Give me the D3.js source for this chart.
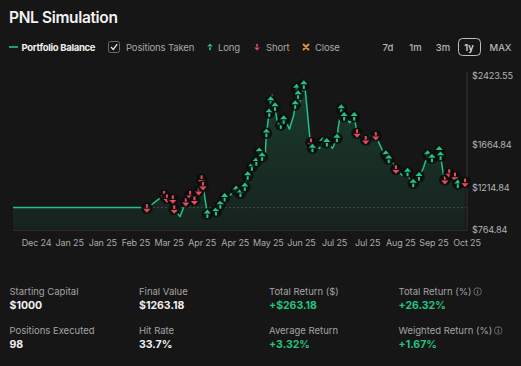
<!DOCTYPE html>
<html><head><meta charset="utf-8">
<script src="https://cdn.jsdelivr.net/npm/d3@7"></script>
<style>
html,body{margin:0;padding:0;background:#161616;}
svg{display:block;font-family:Inter,"Noto Sans",sans-serif;}
</style></head><body>
<svg id="c" width="521" height="366"></svg>
<script>
const dates = ["2024-11-24","2025-02-20","2025-02-25","2025-02-28","2025-03-03","2025-03-09","2025-03-11","2025-03-15","2025-03-16","2025-03-20","2025-03-24","2025-03-27","2025-03-30","2025-04-02","2025-04-04","2025-04-05","2025-04-08","2025-04-11","2025-04-14","2025-04-17","2025-04-20","2025-04-24","2025-04-28","2025-05-01","2025-05-04","2025-05-06","2025-05-09","2025-05-12","2025-05-14","2025-05-16","2025-05-18","2025-05-19","2025-05-21","2025-05-22","2025-05-23","2025-05-25","2025-05-27","2025-05-29","2025-05-31","2025-06-02","2025-06-04","2025-06-07","2025-06-08","2025-06-09","2025-06-10","2025-06-11","2025-06-14","2025-06-15","2025-06-18","2025-06-19","2025-06-20","2025-06-25","2025-06-27","2025-06-30","2025-07-04","2025-07-07","2025-07-08","2025-07-10","2025-07-12","2025-07-16","2025-07-19","2025-07-21","2025-07-24","2025-07-27","2025-07-30","2025-08-03","2025-08-08","2025-08-10","2025-08-12","2025-08-15","2025-08-17","2025-08-21","2025-08-25","2025-08-27","2025-08-29","2025-08-31","2025-09-02","2025-09-05","2025-09-08","2025-09-11","2025-09-16","2025-09-17","2025-09-19","2025-09-20","2025-09-23","2025-09-27","2025-09-29","2025-10-02","2025-10-04"];
const balance = [1000,1000,995,1027,1062,1133,1096,1087,982,905,1059,1133,1075,1175,1297,1227,933,954,959,1030,1106,1133,1185,1153,1216,1333,1429,1482,1584,1532,1500,1781,1994,2120,2183,2057,1850,1868,1921,1892,1823,1972,2078,2253,2183,2096,2288,2236,1763,1682,1623,1623,1693,1682,1623,1728,1850,2036,1955,1892,1955,1781,1763,1710,1752,1752,1587,1553,1508,1466,1402,1342,1371,1272,1255,1272,1325,1413,1553,1518,1598,1542,1342,1290,1361,1325,1248,1262,1263.18];
const signals = ["","","S","","","S","S","S","S","","S","S","S","S","S","S","L","","L","L","L","","L","L","L","L","L","L","L","L","","L","L","L","","L","","L","L","","","","L","L","L","","L","","","S","L","","L","L","","L","","L","L","","L","S","","S","","S","","L","L","","S","","L","","L","","L","","L","L","L","L","","S","S","S","L","","S"];
const tickDates = ["2024-12-10","2025-01-02","2025-01-25","2025-02-17","2025-03-12","2025-04-04","2025-04-27","2025-05-20","2025-06-12","2025-07-05","2025-07-28","2025-08-20","2025-09-12","2025-10-05"];
const tickLabels = ["Dec 24","Jan 25","Jan 25","Feb 25","Mar 25","Apr 25","Apr 25","May 25","Jun 25","Jul 25","Jul 25","Aug 25","Sep 25","Oct 25"];
const yTicks = [764.84,1214.84,1664.84,2423.55];
const baseline = 1000;
const legendItems = ["Portfolio Balance","Positions Taken","Long","Short","Close"];
const ranges = ["7d","1m","3m","1y","MAX"];
const statLabels = ["Starting Capital","Final Value","Total Return ($)","Total Return (%)","Positions Executed","Hit Rate","Average Return","Weighted Return (%)"];
const statValues = ["$1000","$1263.18","+$263.18","+26.32%","98","33.7%","+3.32%","+1.67%"];

const GREEN="#22c383", RED="#e9485e", ORANGE="#e8913a";
const svg=d3.select("#c");
const parse=d3.timeParse("%Y-%m-%d");
const data=dates.map((d,i)=>({date:parse(d),v:balance[i],s:signals[i]}));

const x=d3.scaleTime().domain([parse("2024-11-24"),parse("2025-10-05")]).range([13,466.5]);
const y=d3.scaleLinear().domain([764.84,2423.55]).range([230,72]);

// title
svg.append("text").attr("x",9).attr("y",23).attr("fill","#f2f2f2").attr("font-size",15.5).attr("font-weight",600).attr("letter-spacing",-0.35).text("PNL Simulation");

// legend
const ly=47;
const LFS=9.5, LLS=-0.15;
svg.append("line").attr("x1",9).attr("x2",18).attr("y1",ly).attr("y2",ly).attr("stroke",GREEN).attr("stroke-width",1.6);
svg.append("text").attr("x",21.5).attr("y",ly+3.5).attr("fill","#eeeeee").attr("font-size",LFS).attr("font-weight",700).attr("letter-spacing",-0.3).text(legendItems[0]);
svg.append("rect").attr("x",108.5).attr("y",41.5).attr("width",11).attr("height",11).attr("rx",2).attr("fill","none").attr("stroke","#6a6a6a");
svg.append("path").attr("d","M111,47 L113.3,49.5 L117.2,44.2").attr("fill","none").attr("stroke","#e6e6e6").attr("stroke-width",1.3);
svg.append("text").attr("x",126).attr("y",ly+3.5).attr("fill","#a8a8a8").attr("font-size",LFS).attr("letter-spacing",LLS).text(legendItems[1]);

function arrow(g,type,cx,cy,s){
  const k=s||1;
  const up = type==="L";
  const col = up?GREEN:RED;
  const dir = up?-1:1;
  g.append("path").attr("d",
    `M${cx},${cy+dir*3.8*k} L${cx-3*k},${cy+dir*0.5*k} L${cx+3*k},${cy+dir*0.5*k} Z`)
    .attr("fill",col);
  g.append("rect").attr("x",cx-0.85*k).attr("y",up?cy+0.3*k:cy-3.3*k).attr("width",1.7*k).attr("height",3*k).attr("fill",col);
}
const lg=svg.append("g");
arrow(lg,"L",210,ly,0.95);
svg.append("text").attr("x",218).attr("y",ly+3.5).attr("fill","#a8a8a8").attr("font-size",LFS).attr("letter-spacing",LLS).text(legendItems[2]);
arrow(lg,"S",257,ly,0.95);
svg.append("text").attr("x",266).attr("y",ly+3.5).attr("fill","#a8a8a8").attr("font-size",LFS).attr("letter-spacing",LLS).text(legendItems[3]);
svg.append("path").attr("d","M303.5,44.5 L308.5,49.5 M308.5,44.5 L303.5,49.5").attr("stroke",ORANGE).attr("stroke-width",1.8).attr("stroke-linecap","round");
svg.append("text").attr("x",315).attr("y",ly+3.5).attr("fill","#a8a8a8").attr("font-size",LFS).attr("letter-spacing",LLS).text(legendItems[4]);

// range buttons
const rx=[388,415.5,443,469,500.5];
svg.append("rect").attr("x",458.5).attr("y",38.5).attr("width",22).attr("height",17).attr("rx",4).attr("fill","none").attr("stroke","#bdbdbd");
ranges.forEach((r,i)=>{
  svg.append("text").attr("x",rx[i]).attr("y",ly+3.5).attr("text-anchor","middle").attr("fill",i===3?"#e8e8e8":"#b5b5b5").attr("font-size",9.5).attr("font-weight",500).text(r);
});

// plot
const defs=svg.append("defs");
const grad=defs.append("linearGradient").attr("id","ag").attr("gradientUnits","userSpaceOnUse").attr("x1",0).attr("x2",0).attr("y1",80).attr("y2",230);
grad.append("stop").attr("offset",0).attr("stop-color","#1d6b4b").attr("stop-opacity",0.45);
grad.append("stop").attr("offset",1).attr("stop-color","#1d6b4b").attr("stop-opacity",0.14);

const area=d3.area().x(d=>x(d.date)).y0(230).y1(d=>y(d.v));
svg.append("path").datum(data).attr("d",area).attr("fill","url(#ag)");

// axis frame lines
svg.append("line").attr("x1",13).attr("x2",467).attr("y1",230.5).attr("y2",230.5).attr("stroke","#2b2b2b");
svg.append("line").attr("x1",467).attr("x2",467).attr("y1",72).attr("y2",230.5).attr("stroke","#333");

// baseline dashed
svg.append("line").attr("x1",13).attr("x2",466).attr("y1",y(baseline)).attr("y2",y(baseline)).attr("stroke","#4a4a4a").attr("stroke-dasharray","2,2");

const line=d3.line().x(d=>x(d.date)).y(d=>y(d.v));
svg.append("path").datum(data).attr("d",line).attr("fill","none").attr("stroke",GREEN).attr("stroke-width",1.5).attr("stroke-linejoin","round");

// markers
const mg=svg.append("g");
data.filter(d=>d.s).forEach(d=>{
  const cx=x(d.date), cy=y(d.v);
  mg.append("circle").attr("cx",cx).attr("cy",cy).attr("r",5.8).attr("fill","#0b0d0c").attr("opacity",0.9);
  arrow(mg,d.s,cx,cy,1.2);
});

// x axis
const xa=svg.append("g").attr("transform","translate(0,230)")
  .call(d3.axisBottom(x).tickValues(tickDates.map(parse)).tickFormat((d,i)=>tickLabels[i]).tickSize(0).tickPadding(10));
xa.select(".domain").remove();
xa.selectAll("text").attr("fill","#a9a9a9").attr("font-size",9).attr("letter-spacing",-0.15).attr("font-family","Inter,sans-serif");

// y axis labels
const ya=svg.append("g").attr("transform","translate(467,0)")
  .call(d3.axisRight(y).tickValues(yTicks).tickFormat(d=>"$"+d.toFixed(2)).tickSize(0).tickPadding(5));
ya.select(".domain").remove();
ya.selectAll("text").attr("fill","#b3b3b3").attr("font-size",9.2).attr("letter-spacing",-0.15).attr("font-family","Inter,sans-serif");
ya.selectAll(".tick").filter(d=>d===2423.55).select("text").attr("dy","0.32em").attr("y",4);

// stats
const colX=[9.5,139,269,398.5];
const rowY=[295,334];
statLabels.forEach((l,i)=>{
  const cx=colX[i%4], ry=rowY[Math.floor(i/4)];
  const t=svg.append("text").attr("x",cx).attr("y",ry).attr("fill","#a3a3a3").attr("font-size",9.5).text(l);
  const green = (i%4)>=2;
  svg.append("text").attr("x",cx).attr("y",ry+13.5).attr("fill",green?GREEN:"#f0f0f0").attr("font-size",10.5).attr("font-weight",700).text(statValues[i]);
  if(i===3||i===7){
    const w=t.node().getComputedTextLength();
    const ix=cx+w+6, iy=ry-3.5;
    svg.append("circle").attr("cx",ix).attr("cy",iy).attr("r",3.8).attr("fill","none").attr("stroke","#777").attr("stroke-width",0.8);
    svg.append("text").attr("x",ix).attr("y",iy+2.3).attr("text-anchor","middle").attr("fill","#888").attr("font-size",5.5).attr("font-weight",700).text("i");
  }
});
</script>
</body></html>
